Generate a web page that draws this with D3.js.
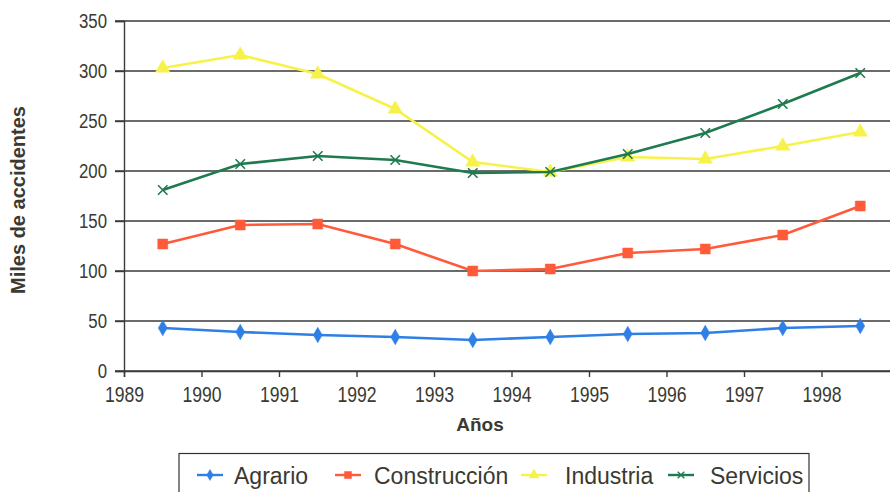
<!DOCTYPE html>
<html><head><meta charset="utf-8">
<script src="https://cdn.jsdelivr.net/npm/d3@7"></script>
<style>
html,body{margin:0;padding:0;background:#fff;}
svg{display:block;}
text{font-family:"Liberation Sans",Arial,sans-serif;fill:#3a3a30;}
</style></head>
<body><svg id="c" width="890" height="492"></svg>
<script>
const years = [1989.5,1990.5,1991.5,1992.5,1993.5,1994.5,1995.5,1996.5,1997.5,1998.5];
const xTicks = [1989,1990,1991,1992,1993,1994,1995,1996,1997,1998];
const yTicks = [0,50,100,150,200,250,300,350];
const agrario = [43,39,36,34,31,34,37,38,43,45];
const construccion = [127,146,147,127,100,102,118,122,136,165];
const industria = [303,316,297,262,209,199,214,212,225,239];
const servicios = [181,207,215,211,198,199,217,238,267,298];
const seriesNames = ["Agrario","Construcción","Industria","Servicios"];
const seriesColors = ["#2e7fe6","#ff5a3a","#f7f24a","#1f7a4e"];

const series = [
  {name:seriesNames[0], values:agrario, color:seriesColors[0], sym:d3.symbolDiamond, size:70, fill:true},
  {name:seriesNames[1], values:construccion, color:seriesColors[1], sym:d3.symbolSquare, size:100, fill:true},
  {name:seriesNames[2], values:industria, color:seriesColors[2], sym:d3.symbolTriangle, size:90, fill:true},
  {name:seriesNames[3], values:servicios, color:seriesColors[3], sym:d3.symbolX, size:60, fill:false}
];

const svg = d3.select("#c");
const x = d3.scaleLinear().domain([1989,1999]).range([124,899]);
const y = d3.scaleLinear().domain([0,350]).range([371,21]);
const SX = 0.8;

// grid
svg.append("g").selectAll("line").data(yTicks).join("line")
  .attr("x1",115).attr("x2",890)
  .attr("y1",d=>y(d)).attr("y2",d=>y(d))
  .attr("stroke","#3a3a3a").attr("stroke-width",1.4);

// y axis
const yAxis = svg.append("g").attr("transform","translate(124,0)")
  .call(d3.axisLeft(y).tickValues(yTicks).tickSize(9).tickPadding(5));
yAxis.select(".domain").attr("stroke","#3a3a3a").attr("stroke-width",1.4);
yAxis.selectAll(".tick line").attr("stroke","#3a3a3a").attr("stroke-width",1.4);
yAxis.selectAll("text").style("font-size","21px").attr("fill","#3a3a30")
  .attr("x",-17/SX).attr("transform",`scale(${SX},1)`);

// x axis
const xAxis = svg.append("g").attr("transform","translate(0,371)")
  .call(d3.axisBottom(x).tickValues(xTicks).tickFormat(d3.format("d")).tickSize(6).tickPadding(3));
xAxis.select(".domain").attr("stroke","#3a3a3a").attr("stroke-width",1.4);
xAxis.selectAll(".tick line").attr("stroke","#3a3a3a").attr("stroke-width",1.4);
xAxis.selectAll("text").style("font-size","22px").attr("fill","#3a3a30")
  .attr("y",31).attr("dy",0).attr("transform",`scale(${SX},1)`);

// titles
svg.append("text").attr("transform","translate(25,200) rotate(-90)")
  .attr("text-anchor","middle")
  .style("font-weight","bold").style("font-size","20px").attr("fill","#2e2e28").text("Miles de accidentes");
svg.append("text").attr("x",480).attr("y",431).attr("text-anchor","middle")
  .style("font-weight","bold").style("font-size","19px").attr("fill","#2e2e28").text("Años");

// lines
const line = d3.line().x((d,i)=>x(years[i])).y(d=>y(d));
series.forEach(s=>{
  svg.append("path").datum(s.values).attr("d",line)
    .attr("fill","none").attr("stroke",s.color).attr("stroke-width",2.6);
  svg.append("g").selectAll("path").data(s.values).join("path")
    .attr("transform",(d,i)=>`translate(${x(years[i])},${y(d)})`)
    .attr("d",d3.symbol().type(s.sym).size(s.size))
    .attr("fill",s.fill?s.color:"none")
    .attr("stroke",s.color).attr("stroke-width",s.fill?0.5:1.6);
});

// legend
const leg = svg.append("g");
leg.append("rect").attr("x",179).attr("y",453.5).attr("width",630).attr("height",45)
  .attr("fill","#fff").attr("stroke","#333").attr("stroke-width",1.2);
const legX = [197,335,521,668];
const legTextX = [234,374,565,710];
series.forEach((s,i)=>{
  const g = leg.append("g");
  g.append("line").attr("x1",legX[i]).attr("x2",legX[i]+26).attr("y1",475).attr("y2",475)
    .attr("stroke",s.color).attr("stroke-width",2.4);
  g.append("path").attr("transform",`translate(${legX[i]+13},475)`)
    .attr("d",d3.symbol().type(s.sym).size(s.size*0.5))
    .attr("fill",s.fill?s.color:"none").attr("stroke",s.color).attr("stroke-width",s.fill?0.5:1.4);
  g.append("text").attr("x",legTextX[i]).attr("y",484).style("font-size","23px").attr("fill","#3a3a30").text(s.name);
});
</script></body></html>
